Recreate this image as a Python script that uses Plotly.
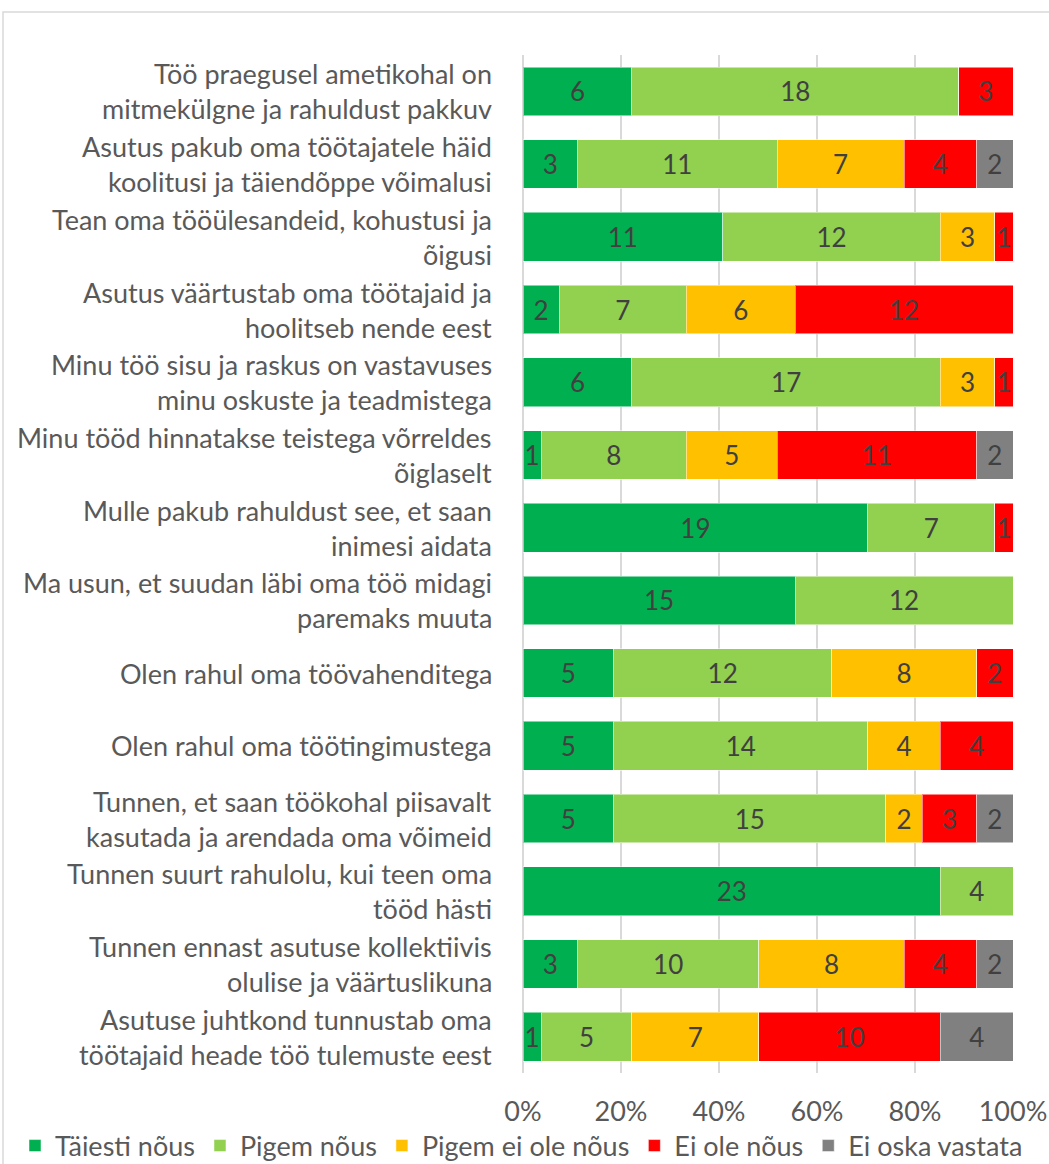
import plotly.graph_objects as go

categories = [
    "Töö praegusel ametikohal on\nmitmekülgne ja rahuldust pakkuv",
    "Asutus pakub oma töötajatele häid\nkoolitusi ja täiendõppe võimalusi",
    "Tean oma tööülesandeid, kohustusi ja\nõigusi",
    "Asutus väärtustab oma töötajaid ja\nhoolitseb nende eest",
    "Minu töö sisu ja raskus on vastavuses\nminu oskuste ja teadmistega",
    "Minu tööd hinnatakse teistega võrreldes\nõiglaselt",
    "Mulle pakub rahuldust see, et saan\ninimesi aidata",
    "Ma usun, et suudan läbi oma töö midagi\nparemaks muuta",
    "Olen rahul oma töövahenditega",
    "Olen rahul oma töötingimustega",
    "Tunnen, et saan töökohal piisavalt\nkasutada ja arendada oma võimeid",
    "Tunnen suurt rahulolu, kui teen oma\ntööd hästi",
    "Tunnen ennast asutuse kollektiivis\nolulise ja väärtuslikuna",
    "Asutuse juhtkond tunnustab oma\ntöötajaid heade töö tulemuste eest",
]

series_names = ["Täiesti nõus", "Pigem nõus", "Pigem ei ole nõus", "Ei ole nõus", "Ei oska vastata"]
taiesti = [6, 3, 11, 2, 6, 1, 19, 15, 5, 5, 5, 23, 3, 1]
pigem = [18, 11, 12, 7, 17, 8, 7, 12, 12, 14, 15, 4, 10, 5]
pigem_ei = [0, 7, 3, 6, 3, 5, 0, 0, 8, 4, 2, 0, 8, 7]
ei_ole = [3, 4, 1, 12, 1, 11, 1, 0, 2, 4, 3, 0, 4, 10]
ei_oska = [0, 2, 0, 0, 0, 2, 0, 0, 0, 0, 2, 0, 2, 4]
series_values = [taiesti, pigem, pigem_ei, ei_ole, ei_oska]
colors = ["#00B050", "#92D050", "#FFC000", "#FF0000", "#808080"]
tick_vals = [0, 20, 40, 60, 80, 100]
tick_labels = ["0%", "20%", "40%", "60%", "80%", "100%"]

FONT = "Lato"
FS = 27
TXT = "#595959"

W, H = 1049, 1164
L, R, T, B = 523, 36, 55, 91
pw = W - L - R
ph = H - T - B

ids = list(range(len(categories)))

fig = go.Figure()
for name, vals, col in zip(series_names, series_values, colors):
    fig.add_trace(go.Bar(
        y=ids, x=vals, name=name, orientation="h",
        marker=dict(color=col, line=dict(color="rgba(255,255,255,0.5)", width=1)),
        text=[str(v) if v else "" for v in vals],
        textposition="inside", insidetextanchor="middle",
        insidetextfont=dict(family=FONT, size=26, color="#404040"),
        hoverinfo="skip",
    ))

for i, cat in enumerate(categories):
    lines = cat.split("\n")
    n = len(lines)
    for j, ln in enumerate(lines):
        fig.add_annotation(
            x=(494 - L) / pw, xref="paper", y=i, yref="y",
            text=ln, showarrow=False, xanchor="right", yanchor="middle",
            align="center",
            yshift=((n - 1) / 2 - j) * 35,
            font=dict(family=FONT, size=FS, color=TXT),
        )

fig.add_shape(type="rect", xref="paper", yref="paper",
              x0=(3 - L) / pw, x1=(W + 20 - L) / pw,
              y0=-(H + 20 - (T + ph)) / ph,
              y1=(T + ph - 12) / ph,
              line=dict(color="#D9D9D9", width=1.5), layer="below")

fig.update_layout(
    width=W, height=H,
    margin=dict(l=L, r=R, t=T, b=B, autoexpand=False),
    barmode="stack", barnorm="percent", bargap=0.33,
    plot_bgcolor="white", paper_bgcolor="white",
    font=dict(family=FONT, size=FS, color=TXT),
    uniformtext=dict(minsize=26, mode="show"),
    xaxis=dict(range=[0, 100], tickmode="array", tickvals=tick_vals, ticktext=tick_labels,
               showgrid=True, gridcolor="#D9D9D9", gridwidth=1.5,
               zeroline=True, zerolinecolor="#D9D9D9", zerolinewidth=1.5,
               ticks="outside", ticklen=15, tickcolor="rgba(0,0,0,0)",
               tickfont=dict(family=FONT, size=FS, color=TXT), fixedrange=True,
               automargin=False),
    yaxis=dict(range=[len(categories) - 0.5, -0.5], showticklabels=False,
               showgrid=False, zeroline=False, fixedrange=True, automargin=False),
    legend=dict(orientation="h", xref="paper", x=(15 - L) / pw, xanchor="left",
                yref="paper", y=-(1146 - (T + ph)) / ph, yanchor="middle",
                bgcolor="rgba(0,0,0,0)",
                font=dict(family=FONT, size=27, color=TXT),
                itemwidth=30, tracegroupgap=0, traceorder="normal"),
    showlegend=True,
)

fig.write_html("out.html", config={"displayModeBar": False},
               post_script="document.body.style.margin='0';document.body.style.padding='0';")
